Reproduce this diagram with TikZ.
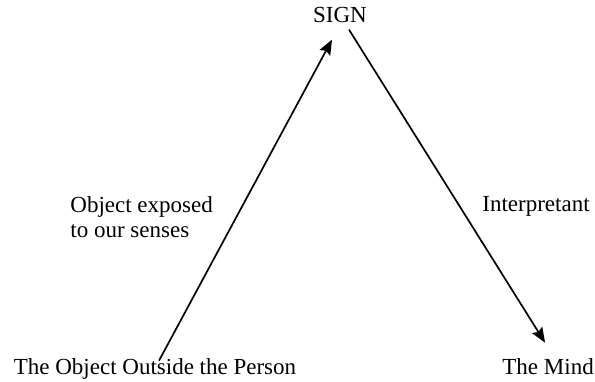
\documentclass[tikz,border=0pt]{standalone}
\usepackage{fontspec}
\setmainfont{Liberation Serif}
\usetikzlibrary{arrows.meta}

\begin{document}
\begin{tikzpicture}[x=0.5pt,y=-0.5pt,>={Stealth[length=7.5pt,width=6pt,inset=1.2pt]},
    lbl/.style={inner sep=0pt,font=\fontsize{11.5}{12.5}\selectfont}]
    \useasboundingbox (0,0) rectangle (595,381);

    \node[lbl,anchor=base] (sign) at (340,22) {SIGN};
    \node[lbl,anchor=base] (object) at (155,374) {The Object Outside the Person};
    \node[lbl,anchor=base west] (mind) at (502,374) {The Mind};

    \node[lbl,anchor=base west,align=left] (exposed) at (70,237)
        {Object exposed\\to our senses};
    \node[lbl,anchor=base west] (interp) at (482,211) {Interpretant};

    \draw[line width=0.85pt,->] ([shift={(4,3)}]object.north)
        -- ([shift={(-8,17)}]sign.south);
    \draw[line width=0.85pt,->] ([shift={(9,7)}]sign.south)
        -- ([shift={(-3,-15)}]mind.north);
\end{tikzpicture}
\end{document}
